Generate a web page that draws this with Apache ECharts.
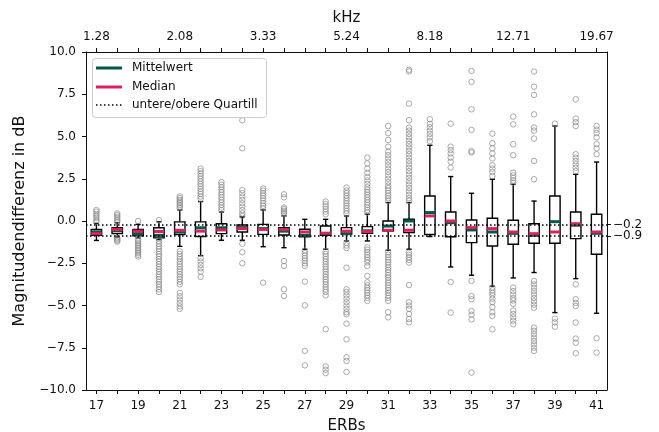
<!DOCTYPE html>
<html>
<head>
<meta charset="utf-8">
<script src="https://cdn.jsdelivr.net/npm/echarts@6/dist/echarts.min.js"></script>
<style>html,body{margin:0;padding:0;background:#fff}#c{width:659px;height:432px}</style>
</head>
<body>
<div id="c"></div>
<script>
const erbs = ['17','18','19','20','21','22','23','24','25','26','27','28','29','30','31','32','33','34','35','36','37','38','39','40','41'];
const khzTicks = ['1.28','2.08','3.33','5.24','8.18','12.71','19.67'];
const quartileLines = [-0.2, -0.9];
const yTicks = [-10, -7.5, -5, -2.5, 0, 2.5, 5, 7.5, 10];

const whiskerLow  = [-1.15,-0.95,-1.0,-1.1,-1.5,-2.05,-1.14,-1.14,-1.52,-1.58,-1.67,-1.67,-1.18,-1.18,-1.73,-1.67,-0.92,-2.72,-3.21,-3.85,-3.37,-3.05,-5.42,-3.41,-5.46];
const q1          = [-0.85,-0.75,-0.88,-1.0,-0.8,-0.92,-0.75,-0.65,-0.79,-0.83,-0.94,-0.85,-0.79,-0.73,-0.59,-0.69,-0.8,-0.93,-1.28,-1.48,-1.38,-1.32,-1.32,-1.04,-1.97];
const median      = [-0.75,-0.5,-0.6,-0.62,-0.55,-0.6,-0.53,-0.45,-0.5,-0.5,-0.65,-0.72,-0.6,-0.62,-0.55,-0.55,0.3,0.0,-0.39,-0.45,-0.65,-0.75,-0.65,-0.16,-0.65];
const q3          = [-0.5,-0.4,-0.5,-0.4,-0.05,-0.05,-0.16,-0.24,-0.2,-0.39,-0.49,-0.3,-0.39,-0.33,0.0,0.1,1.48,0.53,0.06,0.16,0.04,-0.16,1.48,0.53,0.4];
const whiskerHigh = [-0.15,-0.1,-0.2,-0.05,0.65,1.15,0.53,0.24,0.65,0.3,0.1,0.1,0.3,0.4,1.09,1.09,4.48,2.63,1.64,2.47,2.17,1.18,5.62,2.76,3.49];
const mean        = [-0.65,-0.58,-0.75,-0.85,-0.65,-0.4,-0.4,-0.39,-0.45,-0.6,-0.85,-0.75,-0.75,-0.58,-0.3,0.0,0.5,-0.1,-0.53,-0.65,-0.73,-0.85,-0.04,-0.25,-0.73];

const outliers = [
  [0.65,0.55,0.42,0.3,0.18,0.05,-0.05],
  [0.45,0.35,0.25,0.15,0.05,-0.05,-1.0,-1.08,-1.15,-1.22],
  [0.0,-1.1,-1.2,-1.3,-1.4,-1.5,-1.6,-1.7,-1.8,-1.9,-2.0,-2.1],
  [0.05,-1.2,-1.35,-1.5,-1.65,-1.8,-1.95,-2.1,-2.25,-2.4,-2.55,-2.7,-2.85,-3.0,-3.15,-3.3,-3.45,-3.6,-3.75,-3.9,-4.05,-4.2],
  [0.75,0.85,0.95,1.05,1.15,1.25,1.35,1.45,-1.8,-1.95,-2.1,-2.25,-2.4,-2.55,-2.7,-2.85,-3.0,-3.15,-3.3,-3.45,-3.6,-3.75,-4.25,-4.45,-4.65,-4.85,-5.05,-5.2],
  [1.3,1.45,1.6,1.75,1.9,2.05,2.2,2.35,2.5,2.65,2.8,2.95,3.1,-2.2,-2.4,-2.6,-2.8,-3.0,-3.3],
  [0.65,0.8,0.95,1.1,1.25,1.4,1.55,1.7,1.85,2.0,2.15,2.3],
  [5.96,4.3,1.83,1.65,1.45,1.25,1.05,0.85,0.65,0.45,0.3,-1.35,-1.85,-2.5],
  [0.75,0.9,1.05,1.2,1.35,1.5,1.65,1.8,1.93,-3.65],
  [1.58,1.4,0.8,0.7,0.6,0.5,0.4,-2.37,-2.66,-4.04,-4.44],
  [-1.75,-1.9,-2.05,-2.2,-2.35,-2.5,-2.65,-3.59,-4.99,-7.69,-8.54],
  [0.4,0.55,0.7,0.85,1.0,1.15,-1.8,-1.95,-2.1,-2.25,-2.4,-2.55,-2.7,-2.85,-3.0,-3.15,-3.3,-3.45,-3.6,-3.75,-3.9,-4.05,-4.2,-4.4,-6.4,-8.6,-8.8,-9.0],
  [0.45,0.6,0.75,0.9,1.05,1.2,1.35,1.5,1.65,1.8,1.98,-1.3,-1.45,-1.6,-2.76,-4.04,-4.2,-4.4,-4.6,-4.8,-5.0,-5.2,-5.4,-5.52,-6.07,-7.0,-8.07,-8.28,-8.93],
  [0.5,0.65,0.8,0.95,1.1,1.25,1.4,1.55,1.7,1.85,2.0,2.2,2.4,2.6,2.85,3.1,3.4,3.75,-1.56,-1.7,-1.85,-2.0,-2.15,-2.3,-2.45,-2.66,-3.25,-3.63,-3.8,-3.95,-4.1,-4.25,-4.4,-4.55,-4.73],
  [1.2,1.35,1.5,1.65,1.8,1.95,2.1,2.3,2.5,2.7,2.9,3.1,3.3,3.5,3.7,3.9,4.1,4.4,4.8,5.2,5.62,-1.85,-2.0,-2.15,-2.3,-2.45,-2.6,-2.75,-2.9,-3.05,-3.2,-3.35,-3.5,-3.65,-3.8,-3.95,-4.1,-4.25,-4.4,-4.55,-4.73,-5.4,-5.7],
  [8.95,8.85,6.95,5.96,5.53,5.35,5.15,4.95,4.75,4.55,4.35,4.15,3.95,3.75,3.55,3.35,3.15,2.95,2.75,2.55,2.35,2.15,1.95,1.75,1.55,1.35,1.2,-1.87,-2.0,-2.15,-2.3,-2.46,-3.79,-4.81,-5.0,-5.2,-5.5,-5.8,-6.0],
  [4.73,4.95,5.15,5.35,5.55,5.75,6.02],
  [5.76,4.4,4.2,4.0,3.75,3.5,3.16,-3.61,-5.42],
  [8.88,8.23,6.61,5.39,4.14,4.05,-3.55,-4.44,-4.63,-5.33,-5.55,-5.82,-8.97],
  [5.17,4.6,4.3,4.0,3.7,3.3,3.1,2.9,2.66,-3.94,-4.1,-4.25,-4.4,-4.6,-4.8,-5.1,-5.4,-5.62,-6.41],
  [6.18,5.72,4.54,3.89,2.86,2.7,2.55,2.4,2.27,-3.94,-4.15,-4.35,-4.55,-4.7,-4.9,-5.3,-5.5,-5.7,-5.9,-6.11],
  [8.84,7.95,7.46,6.31,5.53,5.35,4.88,3.55,2.47,-3.55,-3.75,-3.95,-4.15,-4.35,-4.55,-4.75,-4.95,-5.13,-6.31,-6.5,-6.7,-6.9,-7.1,-7.3,-7.5,-7.69],
  [5.76,-5.78,-6.0,-6.25],
  [7.2,6.06,5.85,5.62,3.95,3.75,3.55,3.35,3.15,2.96,-3.75,-4.63,-4.85,-5.03,-6.01,-6.96,-7.2,-7.83],
  [5.62,5.4,5.2,4.95,4.55,4.3,3.95,-6.94,-7.79]
];

const MEAN_COLOR = '#005a4b';
const MEDIAN_COLOR = '#e0205c';
const FONT = 'DejaVu Sans';
const minus = v => (v < 0 ? '\u2212' : '') + Math.abs(v).toFixed(1);

const boxData = erbs.map((e, i) => [i, whiskerLow[i], q1[i], median[i], q3[i], whiskerHigh[i], mean[i]]);
const outlierData = [];
outliers.forEach((arr, i) => arr.forEach(v => outlierData.push([i, v])));

function renderBox(params, api) {
  const i = api.value(0);
  const band = api.size([1, 0])[0];
  const half = band * 0.25, cap = band * 0.125;
  const y = v => api.coord([i, v])[1];
  const x = api.coord([i, 0])[0];
  const yLo = y(api.value(1)), yQ1 = y(api.value(2)), yMd = y(api.value(3)),
        yQ3 = y(api.value(4)), yHi = y(api.value(5)), yMn = y(api.value(6));
  const ls = {stroke: '#000', lineWidth: 1.4};
  return {
    type: 'group',
    children: [
      {type: 'line', shape: {x1: x, y1: yQ1, x2: x, y2: yLo}, style: ls},
      {type: 'line', shape: {x1: x, y1: yQ3, x2: x, y2: yHi}, style: ls},
      {type: 'line', shape: {x1: x - cap, y1: yLo, x2: x + cap, y2: yLo}, style: ls},
      {type: 'line', shape: {x1: x - cap, y1: yHi, x2: x + cap, y2: yHi}, style: ls},
      {type: 'rect', shape: {x: x - half, y: yQ3, width: 2 * half, height: yQ1 - yQ3}, style: {fill: '#fff', stroke: '#000', lineWidth: 1.4}},
      {type: 'line', shape: {x1: x - half, y1: yMn, x2: x + half, y2: yMn}, style: {stroke: MEAN_COLOR, lineWidth: 3}},
      {type: 'line', shape: {x1: x - half, y1: yMd, x2: x + half, y2: yMd}, style: {stroke: MEDIAN_COLOR, lineWidth: 3}}
    ]
  };
}

const chart = echarts.init(document.getElementById('c'));
const axisColor = '#111';
chart.setOption({
  animation: false,
  textStyle: {fontFamily: FONT},
  grid: {left: 86, right: 52, top: 52, bottom: 42, containLabel: false, outerBoundsMode: 'none'},
  xAxis: [
    {
      type: 'category', data: erbs, position: 'bottom', boundaryGap: true,
      axisLine: {show: true, onZero: false, lineStyle: {color: axisColor, width: 1}},
      axisTick: {show: true, alignWithLabel: true, interval: 0, length: 4, lineStyle: {color: axisColor}},
      axisLabel: {interval: 1, color: '#111', fontSize: 12, margin: 10, fontFamily: FONT},
      splitLine: {show: false},
      name: 'ERBs', nameLocation: 'middle', nameGap: 29,
      nameTextStyle: {fontSize: 15, color: '#111', fontFamily: FONT}
    },
    {
      type: 'category', data: erbs, position: 'top', boundaryGap: true,
      axisLine: {show: true, onZero: false, lineStyle: {color: axisColor, width: 1}},
      axisTick: {show: true, alignWithLabel: true, interval: 0, length: 4, lineStyle: {color: axisColor}},
      axisLabel: {interval: 3, color: '#111', fontSize: 12, margin: 9, fontFamily: FONT,
        formatter: (v, idx) => khzTicks[Math.round(idx / 4)]},
      splitLine: {show: false},
      name: 'kHz', nameLocation: 'middle', nameGap: 24,
      nameTextStyle: {fontSize: 15, color: '#111', fontFamily: FONT}
    }
  ],
  yAxis: [
    {
      type: 'value', min: yTicks[0], max: yTicks[yTicks.length - 1], interval: 2.5, position: 'left',
      axisLine: {show: true, onZero: false, lineStyle: {color: axisColor, width: 1}},
      axisTick: {show: true, length: 4, lineStyle: {color: axisColor}},
      axisLabel: {color: '#111', fontSize: 12, margin: 10, formatter: minus, fontFamily: FONT},
      splitLine: {show: false},
      name: 'Magnitudendifferenz in dB', nameLocation: 'middle', nameGap: 56,
      nameTextStyle: {fontSize: 16, color: '#111', fontFamily: FONT}
    },
    {
      type: 'value', min: -10, max: 10, position: 'right',
      axisLine: {show: true, onZero: false, lineStyle: {color: axisColor, width: 1}},
      axisTick: {show: true, length: 4, customValues: quartileLines, lineStyle: {color: axisColor}},
      axisLabel: {show: true, customValues: quartileLines, color: '#111', fontSize: 12, margin: 6, formatter: minus, fontFamily: FONT},
      splitLine: {show: false}
    }
  ],
  series: [
    {
      type: 'custom', name: 'box', xAxisIndex: 0, yAxisIndex: 0,
      renderItem: renderBox, data: boxData,
      encode: {x: 0, y: [1, 2, 3, 4, 5, 6]}, z: 2
    },
    {
      type: 'scatter', name: 'outliers', xAxisIndex: 0, yAxisIndex: 0,
      data: outlierData, symbol: 'circle', symbolSize: 5.5,
      itemStyle: {color: 'rgba(255,255,255,0)', borderColor: '#8a8a8a', borderWidth: 0.9},
      z: 3,
      markLine: {
        silent: true, symbol: 'none', label: {show: false},
        lineStyle: {color: '#000', type: [1.5, 2.5], width: 1.6},
        data: quartileLines.map(v => ({yAxis: v})),
        z: 6
      }
    }
  ],
  graphic: [
    {type: 'rect', left: 92, top: 58, shape: {width: 174, height: 59, r: 3},
     style: {fill: 'rgba(255,255,255,0.85)', stroke: '#cccccc', lineWidth: 1}, z: 10},
    {type: 'line', shape: {x1: 96, y1: 68, x2: 122, y2: 68}, style: {stroke: MEAN_COLOR, lineWidth: 3}, z: 11},
    {type: 'line', shape: {x1: 96, y1: 87, x2: 122, y2: 87}, style: {stroke: MEDIAN_COLOR, lineWidth: 3}, z: 11},
    {type: 'line', shape: {x1: 96, y1: 105, x2: 122, y2: 105}, style: {stroke: '#000', lineWidth: 1.5, lineDash: [1.5, 2.5]}, z: 11},
    {type: 'text', x: 132, y: 68, style: {text: 'Mittelwert', font: '12px "DejaVu Sans"', fill: '#111', verticalAlign: 'middle'}, z: 11},
    {type: 'text', x: 132, y: 87, style: {text: 'Median', font: '12px "DejaVu Sans"', fill: '#111', verticalAlign: 'middle'}, z: 11},
    {type: 'text', x: 132, y: 105, style: {text: 'untere/obere Quartill', font: '12px "DejaVu Sans"', fill: '#111', verticalAlign: 'middle'}, z: 11}
  ]
});
</script>
</body>
</html>
